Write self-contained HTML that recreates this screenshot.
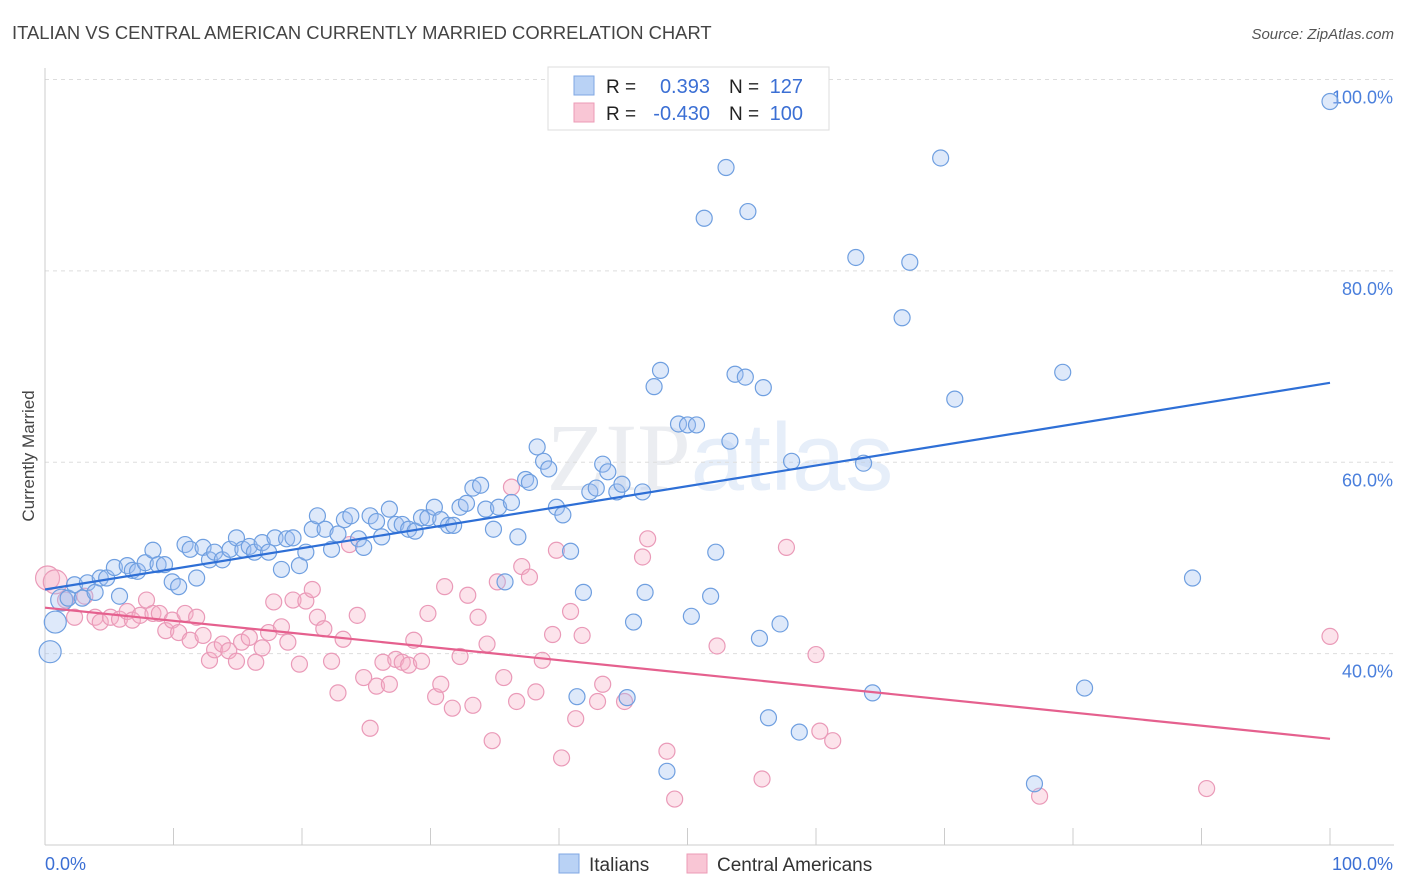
<!DOCTYPE html>
<html><head><meta charset="utf-8"><style>
body{margin:0;background:#fff;font-family:"Liberation Sans",sans-serif;}
svg{display:block}
</style></head><body>
<svg id="chart" width="1406" height="892" viewBox="0 0 1406 892">
<text x="12" y="39" font-size="18.4" fill="#444">ITALIAN VS CENTRAL AMERICAN CURRENTLY MARRIED CORRELATION CHART</text>
<text x="1394" y="39" font-size="15" fill="#555" font-style="italic" text-anchor="end">Source: ZipAtlas.com</text>
<text x="720" y="490" font-size="96" fill="#ebedf1" text-anchor="middle" font-family="Liberation Serif">ZIP<tspan font-family="Liberation Sans" fill="#e6eef9">atlas</tspan></text>
<text transform="translate(34,456) rotate(-90)" font-size="17" fill="#444" text-anchor="middle">Currently Married</text>
<g id="grid"></g><g id="pts"></g><g id="trends"></g>
<g>
<rect x="548" y="67" width="281" height="63" fill="#fff" stroke="#ddd"/>
<rect x="574" y="76" width="20" height="19" fill="#b9d2f5" stroke="#7fa7e3"/>
<rect x="574" y="103" width="20" height="19" fill="#f9c6d5" stroke="#ec9bb6"/>
<text x="606" y="93" font-size="19" fill="#222">R =</text><text x="710" y="93" font-size="20" fill="#3b6fd4" text-anchor="end">0.393</text>
<text x="729" y="93" font-size="19" fill="#222">N =</text><text x="803" y="93" font-size="20" fill="#3b6fd4" text-anchor="end">127</text>
<text x="606" y="120" font-size="19" fill="#222">R =</text><text x="710" y="120" font-size="20" fill="#3b6fd4" text-anchor="end">-0.430</text>
<text x="729" y="120" font-size="19" fill="#222">N =</text><text x="803" y="120" font-size="20" fill="#3b6fd4" text-anchor="end">100</text>
</g>
<g>
<rect x="559" y="854" width="20" height="19" fill="#b9d2f5" stroke="#7fa7e3"/>
<text x="589" y="871" font-size="19" fill="#333">Italians</text>
<rect x="687" y="854" width="20" height="19" fill="#f9c6d5" stroke="#ec9bb6"/>
<text x="717" y="871" font-size="19" fill="#333">Central Americans</text>
</g>
</svg>
<script>
const yTicks=[40,60,80,100];
const xTickLabels=["0.0%","100.0%"];
const blueX=[0.4,0.8,1.3,1.8,2.3,2.9,3.3,3.9,4.3,4.8,5.4,5.8,6.4,6.8,7.2,7.8,8.4,8.8,9.3,9.9,10.4,10.9,11.3,11.8,12.3,12.8,13.2,13.8,14.4,14.9,15.4,15.9,16.3,16.9,17.4,17.9,18.4,18.8,19.3,19.8,20.3,20.8,21.2,21.8,22.3,22.8,23.3,23.8,24.4,24.8,25.3,25.8,26.2,26.8,27.3,27.8,28.3,28.8,29.3,29.8,30.3,30.8,31.4,31.8,32.3,32.8,33.3,33.9,34.3,34.9,35.3,35.8,36.3,36.8,37.4,37.7,38.3,38.8,39.2,39.8,40.3,40.9,41.4,41.9,42.4,42.9,43.4,43.8,44.5,44.9,45.3,45.8,46.5,46.7,47.4,47.9,48.4,49.3,50.0,50.3,50.7,51.3,51.8,52.2,53.0,53.3,53.7,54.5,54.7,55.6,55.9,56.3,57.2,58.1,58.7,63.1,63.7,64.4,66.7,67.3,69.7,70.8,77.0,79.2,80.9,89.3,100];
const blueY=[40.2,43.3,45.6,45.8,47.2,45.8,47.4,46.4,47.9,47.9,49.0,46.0,49.2,48.7,48.6,49.5,50.8,49.3,49.3,47.5,47.0,51.4,50.9,47.9,51.1,49.8,50.6,49.8,50.9,52.1,50.9,51.2,50.6,51.6,50.6,52.1,48.8,52.0,52.1,49.2,50.6,53.0,54.4,53.0,50.9,52.5,54.0,54.4,52.0,51.1,54.4,53.8,52.2,55.1,53.5,53.5,53.0,52.8,54.2,54.2,55.3,54.0,53.4,53.4,55.3,55.7,57.3,57.6,55.1,53.0,55.3,47.5,55.8,52.2,58.2,57.9,61.6,60.1,59.3,55.3,54.5,50.7,35.5,46.4,56.9,57.3,59.8,59.0,56.9,57.7,35.4,43.3,56.9,46.4,67.9,69.6,27.7,64.0,63.9,43.9,63.9,85.5,46.0,50.6,90.8,62.2,69.2,68.9,86.2,41.6,67.8,33.3,43.1,60.1,31.8,81.4,59.9,35.9,75.1,80.9,91.8,66.6,26.4,69.4,36.4,47.9,97.7];
const pinkX=[0.2,0.8,1.6,2.3,3.1,3.9,4.3,5.1,5.8,6.4,6.8,7.4,7.9,8.4,8.9,9.4,9.9,10.4,10.9,11.3,11.8,12.3,12.8,13.2,13.8,14.3,14.9,15.3,15.9,16.4,16.9,17.4,17.8,18.4,18.9,19.3,19.8,20.3,20.8,21.2,21.7,22.3,22.8,23.2,23.7,24.3,24.8,25.3,25.8,26.3,26.8,27.3,27.8,28.3,28.7,29.3,29.8,30.4,30.8,31.1,31.7,32.3,32.9,33.3,33.7,34.4,34.8,35.2,35.7,36.3,36.7,37.1,37.7,38.2,38.7,39.5,39.8,40.2,40.9,41.3,41.8,43.0,43.4,45.1,46.5,46.9,48.4,49.0,52.3,55.8,57.7,60.0,60.3,61.3,77.4,90.4,100];
const pinkY=[47.9,47.5,45.6,43.8,46.0,43.8,43.3,43.8,43.6,44.4,43.5,44.0,45.6,44.2,44.2,42.4,43.5,42.2,44.2,41.4,43.8,41.9,39.3,40.4,41.0,40.3,39.2,41.2,41.7,39.1,40.6,42.2,45.4,42.8,41.2,45.6,38.9,45.5,46.7,43.8,42.6,39.2,35.9,41.5,51.4,44.0,37.5,32.2,36.6,39.1,36.8,39.4,39.1,38.8,41.4,39.2,44.2,35.5,36.8,47.0,34.3,39.7,46.1,34.6,43.8,41.0,30.9,47.5,37.5,57.4,35.0,49.1,48.0,36.0,39.3,42.0,50.8,29.1,44.4,33.2,41.9,35.0,36.8,35.0,50.1,52.0,29.8,24.8,40.8,26.9,51.1,39.9,31.9,30.9,25.1,25.9,41.8];
const blueTrend=[46.7,68.3];
const pinkTrend=[44.8,31.1];

const X0=45,X1=1330,YT=79.5,YB=845;
const sx=v=>X0+(X1-X0)*v/100;
const sy=v=>YT+(YB-YT)*(100-v)/80;
const NS='http://www.w3.org/2000/svg';
function mk(tag,attrs,parent){const e=document.createElementNS(NS,tag);for(const k in attrs)e.setAttribute(k,attrs[k]);parent.appendChild(e);return e;}
const grid=document.getElementById('grid');
yTicks.forEach(t=>{
 const l=mk('line',{x1:X0,x2:1394,y1:sy(t),y2:sy(t),stroke:'#ddd','stroke-dasharray':'4,4'},grid);
 
 
 const tx=mk('text',{x:1393,y:sy(t)+24,'font-size':18,fill:'#4a7fdc','text-anchor':'end'},grid);
 tx.textContent=t.toFixed(1)+'%';
 
 
});
mk('line',{x1:X0,x2:X0,y1:68,y2:YB,stroke:'#ccc'},grid);
mk('line',{x1:X0,x2:1394,y1:YB,y2:YB,stroke:'#ccc'},grid);
for(let i=0;i<=10;i++){mk('line',{x1:sx(i*10),x2:sx(i*10),y1:828,y2:YB,stroke:'#ccc'},grid);}
const xl0=mk('text',{x:45,y:870,'font-size':18,fill:'#3b6fd4'},grid);xl0.textContent=xTickLabels[0];


const xl1=mk('text',{x:1393,y:870,'font-size':18,fill:'#3b6fd4','text-anchor':'end'},grid);xl1.textContent=xTickLabels[1];


const pts=document.getElementById('pts');
pinkX.forEach((x,i)=>{
 const c=mk('circle',{cx:sx(x),cy:sy(pinkY[i]),r:i<2?12:8,fill:'rgba(246,175,198,0.35)',stroke:'#ea9ab8','stroke-width':1.2},pts);
 
 
});
blueX.forEach((x,i)=>{
 const c=mk('circle',{cx:sx(x),cy:sy(blueY[i]),r:i<3?11:8,fill:'rgba(160,192,240,0.35)',stroke:'#6f9fe0','stroke-width':1.2},pts);
 
 
});
const tr=document.getElementById('trends');
const bl=mk('line',{x1:sx(0),y1:sy(blueTrend[0]),x2:sx(100),y2:sy(blueTrend[1]),stroke:'#2e6fd6','stroke-width':2.2},tr);


const pl=mk('line',{x1:sx(0),y1:sy(pinkTrend[0]),x2:sx(100),y2:sy(pinkTrend[1]),stroke:'#e5608e','stroke-width':2.2},tr);


</script>
</body></html>
